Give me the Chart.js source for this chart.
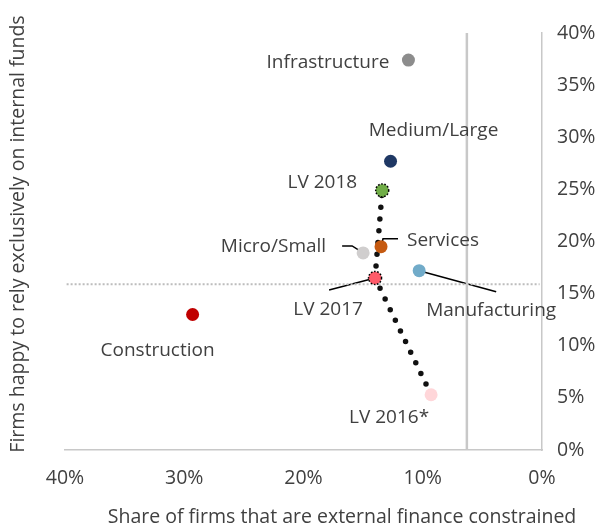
<!DOCTYPE html>
<html><head><meta charset="utf-8">
<script src="https://cdn.jsdelivr.net/npm/chart.js@4/dist/chart.umd.min.js"></script>
<style>html,body{margin:0;padding:0;background:#fff}</style>
</head><body>
<canvas id="c" width="604" height="529"></canvas>
<script>
// ---- data ----
const categories = ['Infrastructure','Medium/Large','LV 2018','Services','Micro/Small','Manufacturing','LV 2017','Construction','LV 2016*'];
const constrainedShare = [11.2, 12.7, 13.4, 13.5, 15.0, 10.3, 14.0, 29.3, 9.3];   // x, %
const internalFundsShare = [37.4, 27.7, 24.9, 19.5, 18.9, 17.2, 16.5, 13.0, 5.3]; // y, %
const lvTrend = ['LV 2016*','LV 2017','LV 2018'];
const avgConstrained = 6.3;
const avgInternal = 15.9;
const xTickValues = [0, 10, 20, 30, 40];
const yTickValues = [0, 5, 10, 15, 20, 25, 30, 35, 40];
const xTitle = 'Share of firms that are external finance constrained';
const yTitle = 'Firms happy to rely exclusively on internal funds';

// ---- styles ----
const pointColors = ['#8c8c8c','#1f3864','#70ad47','#c55a11','#d0cece','#71abc9','#ff5b6a','#c00000','#ffd6d9'];
const dottedRing = ['LV 2018','LV 2017'];
const labelLayout = {
  'Infrastructure': {dx:-19, dy:2, align:'right'},
  'Medium/Large':   {dx:43, dy:-31, align:'center'},
  'LV 2018':        {dx:-25, dy:-8, align:'right'},
  'Services':       {dx:26, dy:-6, align:'left', leader:[[0,0],[2,-8],[17,-8]]},
  'Micro/Small':    {dx:-37, dy:-6, align:'right', leader:[[-21,-7],[-11,-7],[0,0]]},
  'Manufacturing':  {dx:7, dy:40, align:'left', leader:[[0,0],[77,21]]},
  'LV 2017':        {dx:-47, dy:32, align:'center', leader:[[-46,12],[0,0]]},
  'Construction':   {dx:-35, dy:36, align:'center'},
  'LV 2016*':       {dx:-42, dy:23, align:'center'}
};
const textColor = '#404040';
const fontFamily = "'Open Sans', 'Noto Sans', sans-serif";
const labelFontSize = 19;
const titleFontSize = 19.5;

const points = categories.map((c,i)=>({x:constrainedShare[i], y:internalFundsShare[i]}));
const trend = lvTrend.map(n=>{const i=categories.indexOf(n);return {x:constrainedShare[i], y:internalFundsShare[i]};});

const annotatePlugin = {
  id:'annotate',
  beforeDatasetsDraw(chart){
    const ctx=chart.ctx, meta=chart.getDatasetMeta(0);
    ctx.save();
    ctx.strokeStyle='#000'; ctx.lineWidth=1.5;
    categories.forEach((c,i)=>{
      const L=labelLayout[c]; if(!L||!L.leader) return;
      const el=meta.data[i];
      ctx.beginPath();
      L.leader.forEach((p,k)=>{ const X=el.x+p[0], Y=el.y+p[1]; k?ctx.lineTo(X,Y):ctx.moveTo(X,Y); });
      ctx.stroke();
    });
    ctx.restore();
  },
  afterDatasetsDraw(chart){
    const ctx=chart.ctx, meta=chart.getDatasetMeta(0);
    ctx.save();
    ctx.strokeStyle='#000'; ctx.lineWidth=1.5; ctx.setLineDash([1.6,1.6]);
    categories.forEach((c,i)=>{
      if(!dottedRing.includes(c)) return;
      const el=meta.data[i];
      ctx.beginPath(); ctx.arc(el.x, el.y, 6.5, 0, Math.PI*2); ctx.stroke();
    });
    ctx.setLineDash([]);
    ctx.fillStyle=textColor; ctx.font=labelFontSize+'px '+fontFamily; ctx.textBaseline='middle';
    categories.forEach((c,i)=>{
      const L=labelLayout[c]; const el=meta.data[i];
      ctx.textAlign=L.align;
      ctx.fillText(c, el.x+L.dx, el.y+L.dy);
    });
    ctx.font=titleFontSize+'px '+fontFamily;
    ctx.textAlign='center';
    ctx.fillText(xTitle, 342, 517);
    ctx.translate(18, 234); ctx.rotate(-Math.PI/2);
    ctx.fillText(yTitle, 0, 0);
    ctx.restore();
  }
};

Chart.defaults.font.family = fontFamily;
Chart.defaults.font.size = titleFontSize;
Chart.defaults.color = textColor;

new Chart(document.getElementById('c'), {
  type:'scatter',
  data:{datasets:[
    {data:points, backgroundColor:pointColors, pointRadius:6.5, pointHoverRadius:6.5, borderWidth:0, order:0},
    {data:trend, showLine:true, borderColor:'#111', borderWidth:5.5, borderDash:[0,11.8], borderCapStyle:'round', pointRadius:0, order:1},
    {data:[{x:avgConstrained,y:0},{x:avgConstrained,y:40}], showLine:true, borderColor:'#c8c8c8', borderWidth:2.5, pointRadius:0, order:2},
    {data:[{x:40.2,y:avgInternal},{x:0.2,y:avgInternal}], showLine:true, borderColor:'#bdbdbd', borderWidth:2, borderDash:[2,2], pointRadius:0, order:3}
  ]},
  options:{
    responsive:false, animation:false,
    layout:{padding:{left:65, top:33, right:0, bottom:0}},
    plugins:{legend:{display:false}, tooltip:{enabled:false}},
    scales:{
      x:{type:'linear', reverse:true, min:0, max:40,
         afterFit:s=>{s.height=79;},
         afterBuildTicks:s=>{s.ticks=xTickValues.map(v=>({value:v}));},
         ticks:{padding:17, callback:v=>v+'%', color:textColor},
         grid:{display:false, drawTicks:false},
         border:{display:true, color:'#c8c8c8', width:1.5}},
      y:{type:'linear', position:'right', min:0, max:40,
         afterFit:s=>{s.width=62;},
         afterBuildTicks:s=>{s.ticks=yTickValues.map(v=>({value:v}));},
         ticks:{padding:15, callback:v=>v+'%', color:textColor},
         grid:{display:false, drawTicks:false},
         border:{display:true, color:'#c8c8c8', width:1.5}}
    }
  },
  plugins:[annotatePlugin]
});
</script>
</body></html>
